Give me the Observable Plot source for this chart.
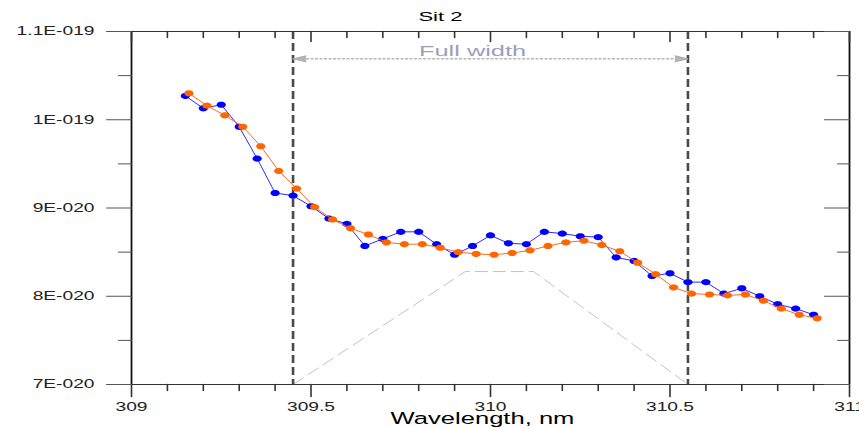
<!DOCTYPE html>
<html><head><meta charset="utf-8">
<script src="https://cdn.jsdelivr.net/npm/d3@7"></script>
<script src="https://cdn.jsdelivr.net/npm/@observablehq/plot@0.6"></script>
<style>html,body{margin:0;padding:0;background:#fff;overflow:hidden}svg{display:block}</style>
</head><body><div id="chart"></div>
<script>
const title = "Sit 2";
const xTitle = "Wavelength, nm";
const bandLabel = "Full width";

const blueX = [309.15,309.2,309.25,309.3,309.35,309.4,309.45,309.5,309.55,309.6,309.65,309.7,309.75,309.8,309.85,309.9,309.95,310,310.05,310.1,310.15,310.2,310.25,310.3,310.35,310.4,310.45,310.5,310.55,310.6,310.65,310.7,310.75,310.8,310.85,310.9];
const blueY = [10.27e-20,10.13e-20,10.17e-20,9.92e-20,9.56e-20,9.17e-20,9.14e-20,9.02e-20,8.88e-20,8.82e-20,8.57e-20,8.65e-20,8.73e-20,8.73e-20,8.59e-20,8.47e-20,8.57e-20,8.69e-20,8.60e-20,8.59e-20,8.73e-20,8.71e-20,8.68e-20,8.67e-20,8.44e-20,8.40e-20,8.23e-20,8.26e-20,8.16e-20,8.16e-20,8.03e-20,8.09e-20,8.00e-20,7.91e-20,7.86e-20,7.79e-20];
const orangeX = [309.16,309.21,309.26,309.31,309.36,309.41,309.46,309.51,309.56,309.61,309.66,309.71,309.76,309.81,309.86,309.91,309.96,310.01,310.06,310.11,310.16,310.21,310.26,310.31,310.36,310.41,310.46,310.51,310.56,310.61,310.66,310.71,310.76,310.81,310.86,310.91];
const orangeY = [10.30e-20,10.16e-20,10.05e-20,9.92e-20,9.70e-20,9.42e-20,9.22e-20,9.01e-20,8.87e-20,8.77e-20,8.70e-20,8.61e-20,8.59e-20,8.59e-20,8.55e-20,8.50e-20,8.48e-20,8.47e-20,8.49e-20,8.52e-20,8.57e-20,8.61e-20,8.63e-20,8.58e-20,8.51e-20,8.38e-20,8.25e-20,8.10e-20,8.03e-20,8.02e-20,8.01e-20,8.02e-20,7.95e-20,7.86e-20,7.79e-20,7.75e-20];

const xMajor = [309, 309.5, 310, 310.5, 311];
const xMinor = [309.1,309.2,309.3,309.4,309.6,309.7,309.8,309.9,310.1,310.2,310.3,310.4,310.6,310.7,310.8,310.9];
const yMajor = [7e-20, 8e-20, 9e-20, 1e-19, 1.1e-19];
const yMinor = [7.5e-20, 8.5e-20, 9.5e-20, 1.05e-19];

const bandEdges = [309.45, 310.55];
const arrowY = 1.069e-19;
const bandLabelX = 309.95;
const bandLabelY = 1.077e-19;
const slitX = [309.45, 309.93, 310.12, 310.55];
const slitY = [7e-20, 8.28e-20, 8.28e-20, 7e-20];

const blue = blueX.map((x, i) => ({x, y: blueY[i]}));
const orange = orangeX.map((x, i) => ({x, y: orangeY[i]}));
const slit = slitX.map((x, i) => ({x, y: slitY[i]}));

const fmtE = d => {
  const e = Math.floor(Math.log10(d) + 1e-9);
  const m = +(d / Math.pow(10, e)).toFixed(2);
  return `${m}E-${String(-e).padStart(3, "0")}`;
};

const tickShape = {draw(ctx, l) { ctx.moveTo(0, 0); ctx.lineTo(0, -l); }};
const ellipse = {draw(ctx) {
  const rx = 4.6, ry = 3.1, n = 24;
  for (let i = 0; i < n; i++) {
    const a = 2 * Math.PI * i / n;
    const px = rx * Math.cos(a), py = ry * Math.sin(a);
    if (i === 0) ctx.moveTo(px, py); else ctx.lineTo(px, py);
  }
  ctx.closePath();
}};
const tickColor = "#333";

const chart = Plot.plot({
  width: 859,
  height: 428,
  marginLeft: 131,
  marginRight: 10,
  marginTop: 31,
  marginBottom: 44,
  style: {fontFamily: "'Liberation Sans', Arial, sans-serif", background: "#fff", color: "#000"},
  x: {domain: [309, 311], axis: null},
  y: {domain: [7e-20, 1.1e-19], axis: null},
  marks: [
    Plot.line(slit, {x: "x", y: "y", stroke: "#c2c2cc", strokeWidth: 1, strokeDasharray: "12,6"}),
    Plot.ruleX(bandEdges, {stroke: "#4a4a4a", strokeWidth: 2.6, strokeDasharray: "8,4"}),
    Plot.ruleY([{y: arrowY, x1: bandEdges[0], x2: bandEdges[1]}], {y: "y", x1: "x1", x2: "x2", stroke: "#b8b8b8", strokeWidth: 1.5, strokeDasharray: "3,1.5"}),
    Plot.vector([{x: bandEdges[0], r: -90}, {x: bandEdges[1], r: 90}], {x: "x", y: () => arrowY, rotate: "r", shape: "spike", anchor: "end", length: 13, r: 3, fill: "#b5b5b5", stroke: "#aaa", strokeWidth: 1}),
    Plot.text([{x: bandLabelX, y: bandLabelY, t: bandLabel}], {x: "x", y: "y", text: "t", fontSize: 14.5, fill: "#9d9dbd"}),
    // frame
    Plot.ruleY([7e-20, 1.1e-19], {stroke: "#333", strokeWidth: 1}),
    Plot.ruleX([309, 311], {stroke: "#111", strokeWidth: 1.8}),
    // ticks
    Plot.vector(xMajor, {x: d => d, frameAnchor: "bottom", rotate: 180, length: 12, anchor: "start", shape: tickShape, stroke: tickColor, strokeWidth: 1.6}),
    Plot.vector(xMinor, {x: d => d, frameAnchor: "bottom", rotate: 180, length: 6, anchor: "start", shape: tickShape, stroke: tickColor, strokeWidth: 1.6}),
    Plot.vector(xMajor, {x: d => d, frameAnchor: "top", rotate: 180, length: 10, anchor: "start", shape: tickShape, stroke: tickColor, strokeWidth: 1.6}),
    Plot.vector(xMinor, {x: d => d, frameAnchor: "top", rotate: 180, length: 6, anchor: "start", shape: tickShape, stroke: tickColor, strokeWidth: 1.6}),
    Plot.vector(yMajor, {y: d => d, frameAnchor: "left", rotate: -90, length: 25, anchor: "start", shape: tickShape, stroke: "#555", strokeWidth: 1}),
    Plot.vector(yMinor, {y: d => d, frameAnchor: "left", rotate: -90, length: 13, anchor: "start", shape: tickShape, stroke: "#555", strokeWidth: 1}),
    Plot.vector(yMajor, {y: d => d, frameAnchor: "right", rotate: -90, length: 25, anchor: "start", shape: tickShape, stroke: "#555", strokeWidth: 1}),
    Plot.vector(yMinor, {y: d => d, frameAnchor: "right", rotate: -90, length: 12, anchor: "start", shape: tickShape, stroke: "#555", strokeWidth: 1}),
    // labels
    Plot.text(yMajor, {y: d => d, frameAnchor: "left", lineAnchor: "middle", dx: -37, textAnchor: "end", text: fmtE, fontSize: 12, fill: "#222"}),
    Plot.text(xMajor, {x: d => d, frameAnchor: "bottom", lineAnchor: "middle", dy: 22.5, text: d => String(d), fontSize: 12, fill: "#222"}),
    Plot.text([title], {frameAnchor: "top", lineAnchor: "middle", dx: -50, dy: -14.5, text: d => d, fontSize: 13, fill: "#000"}),
    Plot.text([xTitle], {frameAnchor: "bottom", lineAnchor: "middle", dx: -8, dy: 34.5, text: d => d, fontSize: 16.5, fill: "#000"}),
    // data
    Plot.line(blue, {x: "x", y: "y", stroke: "#2a2aff", strokeWidth: 1}),
    Plot.dot(blue, {x: "x", y: "y", symbol: ellipse, fill: "#0000ff", stroke: "none"}),
    Plot.line(orange, {x: "x", y: "y", stroke: "#ff6a1a", strokeWidth: 1}),
    Plot.dot(orange, {x: "x", y: "y", symbol: ellipse, fill: "#ff6600", stroke: "none"})
  ]
});

// the reference's lettering is horizontally stretched
const stretchFor = t => t === title ? 1.7 : t === xTitle ? 1.55 : t === bandLabel ? 1.75 : 1.6;
d3.select(chart).selectAll("text").attr("transform", function () {
  return (this.getAttribute("transform") || "") + ` scale(${stretchFor(this.textContent)},1)`;
});
document.getElementById("chart").appendChild(chart);
</script>
</body></html>
